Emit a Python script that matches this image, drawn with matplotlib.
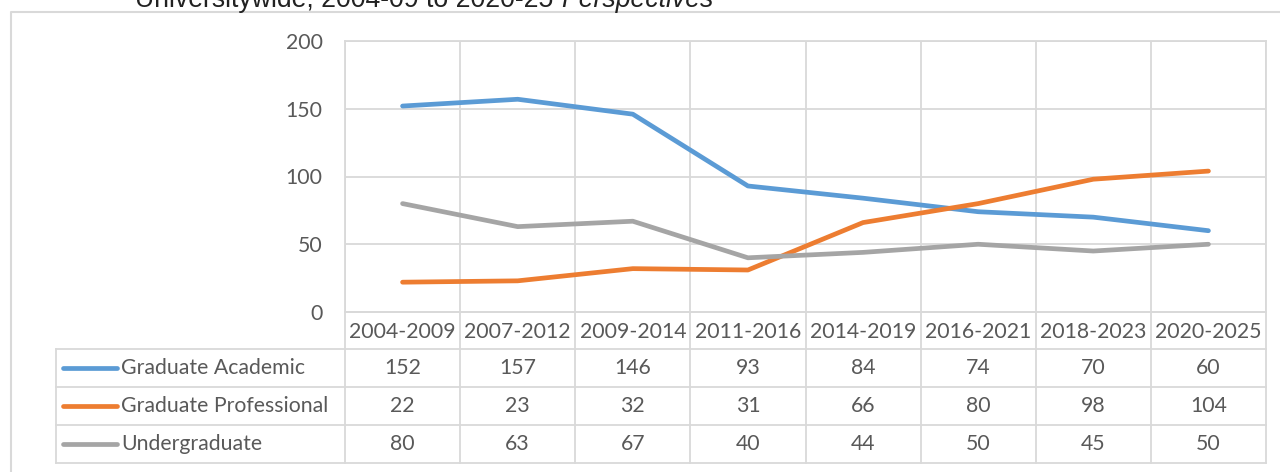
"""Universitywide counts by cohort window, line chart with data table."""

import matplotlib
matplotlib.use("Agg")
import matplotlib.pyplot as plt

periods = ["2004-2009", "2007-2012", "2009-2014", "2011-2016",
           "2014-2019", "2016-2021", "2018-2023", "2020-2025"]
series_names = ["Graduate Academic", "Graduate Professional", "Undergraduate"]
grad_academic = [152, 157, 146, 93, 84, 74, 70, 60]
grad_professional = [22, 23, 32, 31, 66, 80, 98, 104]
undergraduate = [80, 63, 67, 40, 44, 50, 45, 50]
y_ticks = [0, 50, 100, 150, 200]

colors = ["#5B9BD5", "#ED7D31", "#A5A5A5"]
text_color = "#595959"
grid_color = "#D9D9D9"
font = "Lato"
fs = 15.3

W, H = 1280, 472
fig = plt.figure(figsize=(W / 100, H / 100), dpi=100)

# layout in pixels (top-left origin)
plot_left, plot_right = 345, 1266
plot_top, plot_bottom = 41, 312
row_h = 38
header_bottom = 349
legend_left = 56

# overlay axes in pixel coords for border and table
ov = fig.add_axes([0, 0, 1, 1])
ov.set_xlim(0, W)
ov.set_ylim(H, 0)
ov.axis("off")

ax = fig.add_axes([plot_left / W, 1 - plot_bottom / H,
                   (plot_right - plot_left) / W, (plot_bottom - plot_top) / H])
n = len(periods)
xs = [i + 0.5 for i in range(n)]
for vals, c in zip([grad_academic, grad_professional, undergraduate], colors):
    ax.plot(xs, vals, color=c, lw=3.4, solid_capstyle="round", zorder=3)
ax.set_xlim(0, n)
ax.set_ylim(0, 200)
ax.set_yticks(y_ticks)
ax.set_yticklabels([str(t) for t in y_ticks], fontsize=fs, color=text_color, family=font)
ax.tick_params(axis="y", length=0, pad=16)
ax.set_xticks(range(n + 1))
ax.set_xticklabels([])
ax.tick_params(axis="x", length=0)
ax.grid(True, color=grid_color, lw=1.3)
for s in ax.spines.values():
    s.set_color(grid_color)
    s.set_linewidth(1.3)
ax.set_facecolor("none")

# outer chart border
ov.plot([11, 11, W + 5], [H + 5, 12, 12], color=grid_color, lw=1.5)

# title (mostly cropped at the top)
t1 = ov.text(135, 7, "Universitywide, 2004-09 to 2020-25 ", fontsize=19.2,
             family="Liberation Sans", color="#222222", va="baseline", ha="left")
t2 = ov.text(0, 7, "Perspectives", fontsize=19.2, family="Liberation Sans", style="italic",
             color="#222222", va="baseline", ha="left")
fig.canvas.draw()
bb = t1.get_window_extent()
t2.set_x(bb.x1)

# data table
col_w = (plot_right - plot_left) / n
table_bottom = header_bottom + row_h * len(series_names)
lw = 1.3
for k in range(len(series_names) + 1):
    y = header_bottom + k * row_h
    ov.plot([legend_left, plot_right], [y, y], color=grid_color, lw=lw)
ov.plot([plot_left, plot_right], [plot_bottom, plot_bottom], color=grid_color, lw=lw)
ov.plot([legend_left, legend_left], [header_bottom, table_bottom], color=grid_color, lw=lw)
for i in range(n + 1):
    x = plot_left + i * col_w
    ov.plot([x, x], [plot_bottom, table_bottom], color=grid_color, lw=lw)

for i, p in enumerate(periods):
    ov.text(plot_left + (i + 0.5) * col_w, (plot_bottom + header_bottom) / 2 + 1, p,
            fontsize=fs, family=font, color=text_color, ha="center", va="center")

rows = [grad_academic, grad_professional, undergraduate]
for r, (name, vals, c) in enumerate(zip(series_names, rows, colors)):
    yc = header_bottom + (r + 0.5) * row_h
    ov.plot([63, 117], [yc, yc], color=c, lw=3.4, solid_capstyle="round")
    ov.text(121, yc, name, fontsize=fs, family=font, color=text_color, ha="left", va="center")
    for i, v in enumerate(vals):
        ov.text(plot_left + (i + 0.5) * col_w, yc, str(v), fontsize=fs, family=font,
                color=text_color, ha="center", va="center")

fig.savefig("out.png", dpi=100)
plt.close(fig)
